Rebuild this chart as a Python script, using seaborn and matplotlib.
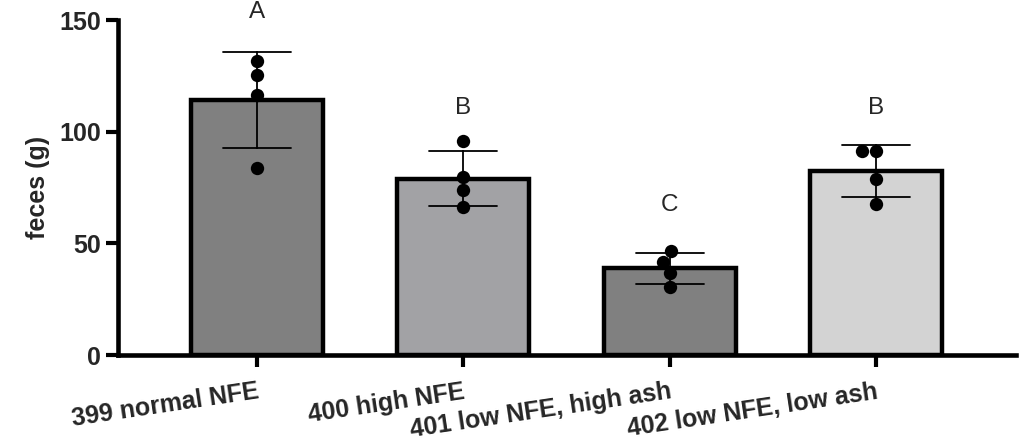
import matplotlib
matplotlib.use("Agg")
import matplotlib.pyplot as plt
import pandas as pd
import seaborn as sns

# Daten
groups = ["399 normal NFE", "400 high NFE", "401 low NFE, high ash", "402 low NFE, low ash"]
feces_399 = [131.6, 125.5, 116.4, 83.6]
feces_400 = [95.8, 79.9, 73.9, 66.4]
feces_401 = [46.7, 41.8, 36.6, 30.3]
feces_402 = [91.5, 91.5, 78.7, 67.6]
letters = ["A", "B", "C", "B"]
letter_y = [153.4, 110.6, 67.2, 110.6]
bar_colors = ["#808080", "#A2A1A6", "#808080", "#D3D3D3"]

df = pd.DataFrame({
    "group": [g for g, vals in zip(groups, [feces_399, feces_400, feces_401, feces_402]) for _ in vals],
    "feces": feces_399 + feces_400 + feces_401 + feces_402,
})

sns.set_style("ticks")
plt.rcParams["font.family"] = ["Liberation Sans", "DejaVu Sans"]
plt.rcParams["font.weight"] = "bold"
plt.rcParams["axes.labelweight"] = "bold"

fig = plt.figure(figsize=(10.26, 4.46), dpi=100)
ax = fig.add_axes([0.115, 0.204, 0.875, 0.751])

sns.barplot(
    data=df, x="group", y="feces", hue="group", order=groups, hue_order=groups,
    palette=bar_colors, errorbar="sd", capsize=0.33, width=0.64,
    edgecolor="black", linewidth=3.2, legend=False,
    err_kws={"color": "black", "linewidth": 1.3}, ax=ax,
)
sns.swarmplot(
    data=df, x="group", y="feces", order=groups, color="black",
    size=9.6, zorder=4, ax=ax,
)

for i, (txt, yv) in enumerate(zip(letters, letter_y)):
    ax.text(i, yv, txt, ha="center", va="center", fontsize=17.5,
            fontweight="normal", clip_on=False)

ax.set_xlim(-0.672, 3.677)
ax.set_ylim(0, 150)
ax.set_yticks([0, 50, 100, 150])
ax.set_xticks(range(len(groups)))
ax.set_xticklabels(groups, rotation=8.5, ha="right", rotation_mode="anchor",
                   fontsize=18, fontweight="bold")
ax.set_xlabel("")
ax.set_ylabel("feces (g)", fontsize=18, fontweight="bold", labelpad=7)

for lbl in ax.get_yticklabels():
    lbl.set_fontsize(18)
    lbl.set_fontweight("bold")

ax.tick_params(axis="both", direction="out", length=8.6, width=3, color="black")
ax.tick_params(axis="y", pad=3.5)
ax.tick_params(axis="x", pad=9)

sns.despine(ax=ax)
for side in ["left", "bottom"]:
    ax.spines[side].set_linewidth(3.3)
    ax.spines[side].set_color("black")

fig.savefig("out.png", dpi=100)
